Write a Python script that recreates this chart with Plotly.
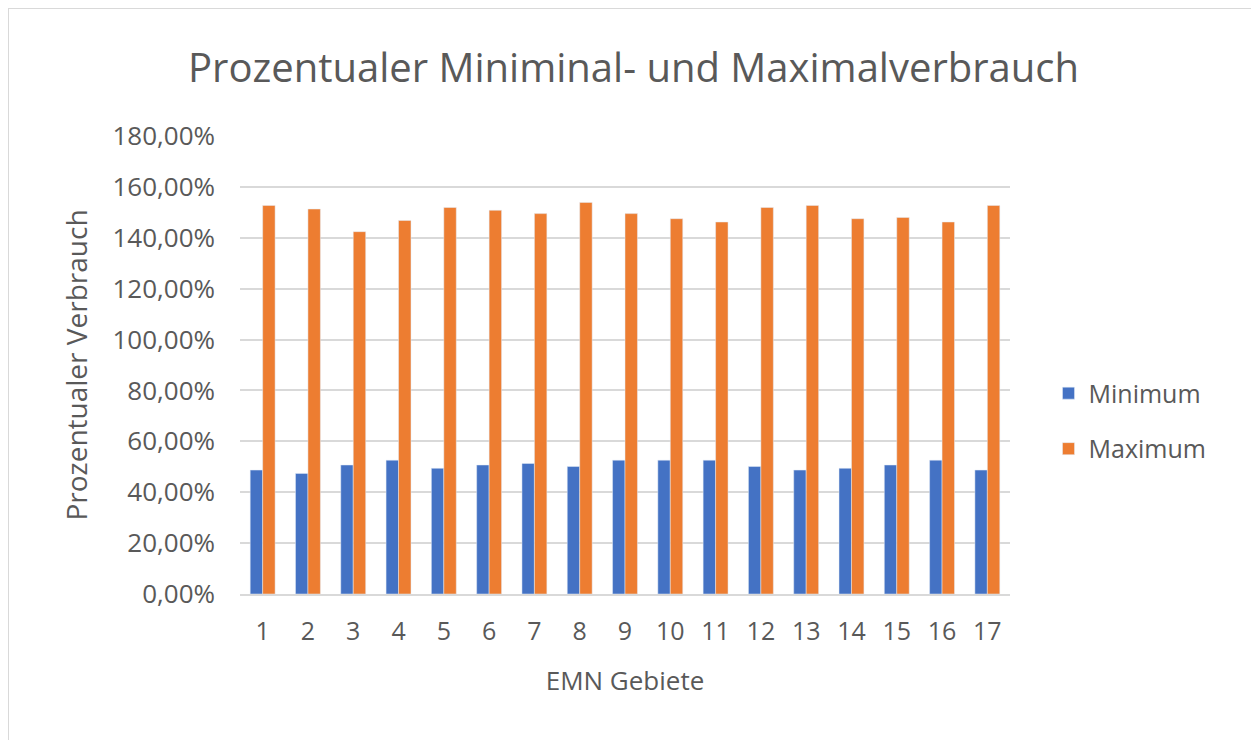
import plotly.graph_objects as go

# EMN areas and min/max consumption (as fractions, 1.0 = 100 %)
gebiete = [str(i) for i in range(1, 18)]
minimum = [0.487, 0.474, 0.507, 0.526, 0.494, 0.507, 0.513, 0.501, 0.526,
           0.526, 0.526, 0.501, 0.487, 0.494, 0.507, 0.526, 0.487]
maximum = [1.527, 1.513, 1.424, 1.468, 1.519, 1.508, 1.495, 1.539, 1.495,
           1.475, 1.462, 1.519, 1.527, 1.475, 1.480, 1.462, 1.527]
y_ticks = [i / 100 for i in range(0, 181, 20)]

FONT = "Open Sans"
GREY = "#595959"

fig = go.Figure()
fig.add_trace(go.Bar(x=gebiete, y=minimum, name="Minimum", marker_color="#4472C4",
                     legendgroup="min"))
fig.add_trace(go.Bar(x=gebiete, y=maximum, name="Maximum", marker_color="#ED7D31",
                     legendgroup="max"))

# page body has an 8px margin, so the figure is a bit smaller than the window
fig.update_layout(
    width=1251, height=732,
    barmode="group", bargap=0.45, bargroupgap=0,
    separators=",.",
    paper_bgcolor="white", plot_bgcolor="white",
    font=dict(family=FONT, color=GREY, size=24),
    title=dict(text="Prozentualer Miniminal- und Maximalverbrauch",
               x=0.5, xanchor="center", y=0.918, yanchor="middle",
               font=dict(size=40, color=GREY)),
    margin=dict(l=232, r=249, t=128, b=146),
    legend=dict(x=1.05, xanchor="left", y=0.378, yanchor="middle",
                font=dict(size=25, color=GREY), tracegroupgap=20,
                bgcolor="rgba(0,0,0,0)"),
    showlegend=True,
)

fig.update_yaxes(
    range=[0, 1.8], tickvals=y_ticks, tickformat=".2%",
    showgrid=True, gridcolor="#d9d9d9", gridwidth=1.5,
    zeroline=False, showline=False, ticks="",
    ticklabelstandoff=24,
    tickfont=dict(size=26, color=GREY),
    title=dict(text="Prozentualer Verbrauch", font=dict(size=28, color=GREY), standoff=16),
)
fig.update_xaxes(
    showline=True, linecolor="#d9d9d9", linewidth=1.5,
    showgrid=False, ticks="",
    ticklabelstandoff=14,
    tickfont=dict(size=25, color=GREY),
    title=dict(text="EMN Gebiete", font=dict(size=26, color=GREY), standoff=26),
)

# chart frame like the spreadsheet chart border
fig.add_shape(type="rect", xref="paper", yref="paper",
              x0=-232 / 770, x1=1012 / 770, y0=-160 / 458, y1=586 / 458,
              line=dict(color="#d9d9d9", width=2), fillcolor="rgba(0,0,0,0)")

fig.write_html("out.html")
